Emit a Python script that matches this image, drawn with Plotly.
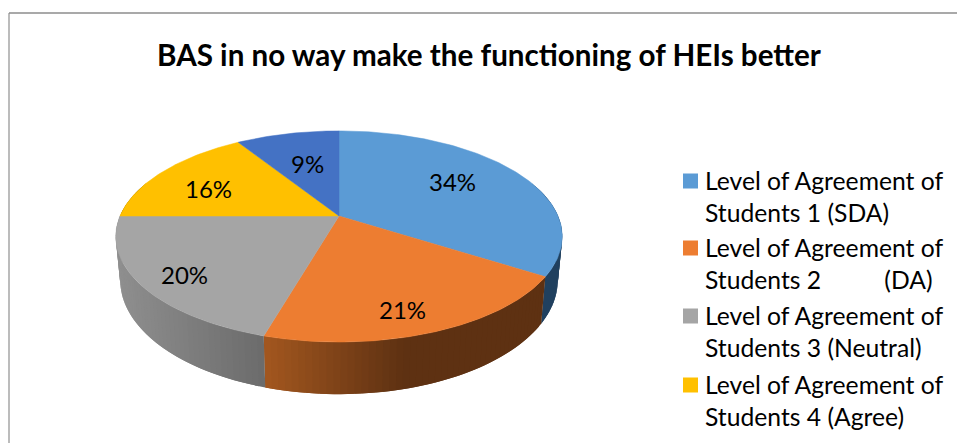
import math
import plotly.graph_objects as go

TITLE = "BAS in no way make the functioning of HEIs better"
SLICE_NAMES = [
    "Level of Agreement of<br>Students 1 (SDA)",
    "Level of Agreement of<br>Students 2          (DA)",
    "Level of Agreement of<br>Students 3 (Neutral)",
    "Level of Agreement of<br>Students 4 (Agree)",
    "Level of Agreement of<br>Students 5 (SA)",
]
VALUES = [34.0, 20.51, 20.49, 16.0, 9.0]
TOP_COLORS = ["#5B9BD5", "#ED7D31", "#A5A5A5", "#FFC000", "#4472C4"]
SIDE_LEFT = ["#20405F", "#A3571F", "#8F8F8F", "#997300", "#264478"]
SIDE_RIGHT = ["#20405F", "#5E3112", "#6B6B6B", "#997300", "#264478"]

W, H = 957, 443
CX, CY, R, HT, K, DEPTH, LOWER = 339, 216, 219, 101.6, 0.194, 42, 0.98
FONT = "Lato, 'Open Sans', sans-serif"


def rim(theta, lower=False):
    s, c = math.sin(theta), math.cos(theta)
    d = 1 + K * c
    x = R * s / d
    y = HT * c / d
    if lower:
        return CX + x * LOWER, CY - y + DEPTH / d
    return CX + x, CY - y


def hex2rgb(h):
    return [int(h[i:i + 2], 16) for i in (1, 3, 5)]


def mix(a, b, t):
    t = max(0, min(1, t))
    ca, cb = hex2rgb(a), hex2rgb(b)
    return "rgb(%d,%d,%d)" % tuple(round(p + (q - p) * t) for p, q in zip(ca, cb))


fig = go.Figure()
total = sum(VALUES)
edges = [0.0]
for v in VALUES:
    edges.append(edges[-1] + v / total * 2 * math.pi)

# side wall, painted first; each step overlaps the next so no seams show
STEP = math.radians(1.5)
for i, v in enumerate(VALUES):
    lo = max(edges[i], math.radians(70))
    hi = min(edges[i + 1], math.radians(290))
    if lo >= hi:
        continue
    n = max(1, round((hi - lo) / STEP))
    sx = sorted((rim(lo)[0], rim(hi)[0]))
    for j in range(n):
        a = lo + (hi - lo) * j / n
        b = lo + (hi - lo) * (j + 1) / n
        b2 = lo + (hi - lo) * min(n, j + 2) / n
        p = [rim(a), rim(b2), rim(b2, True), rim(a, True)]
        xs = [q[0] for q in p] + [p[0][0]]
        ys = [q[1] for q in p] + [p[0][1]]
        mx = (rim(a)[0] + rim(b)[0]) / 2
        if i == 1:
            t = (mx - sx[0]) / 140
        elif i == 2:
            t = (mx - 116) / 150
        else:
            t = 0
        col = mix(SIDE_LEFT[i], SIDE_RIGHT[i], t)
        fig.add_trace(go.Scatter(x=xs, y=ys, mode="lines", fill="toself", fillcolor=col,
                                 line=dict(width=0), hoverinfo="skip", showlegend=False))

# top face
for i, v in enumerate(VALUES):
    n = max(2, int((edges[i + 1] - edges[i]) / math.radians(1)))
    pts = [rim(edges[i] + (edges[i + 1] - edges[i]) * j / n) for j in range(n + 1)]
    xs = [CX] + [p[0] for p in pts] + [CX]
    ys = [CY] + [p[1] for p in pts] + [CY]
    fig.add_trace(go.Scatter(x=xs, y=ys, mode="lines", fill="toself", fillcolor=TOP_COLORS[i],
                             line=dict(color=TOP_COLORS[i], width=0.5), hoverinfo="skip", showlegend=False,
                             name=SLICE_NAMES[i].replace("<br>", " ")))

# data labels
LABEL_POS = [(452, 181), (402, 309), (184, 274), (208, 188), (307, 163)]
ann = []
for v, (lx, ly) in zip(VALUES, LABEL_POS):
    ann.append(dict(x=lx, y=ly, xref="x", yref="y", text=f"{v:.0f}%", showarrow=False,
                    font=dict(family=FONT, size=24, color="#000000"), xanchor="center", yanchor="middle"))

# legend
LEG_Y = [181, 248, 316, 385]
for name, col, y0 in zip(SLICE_NAMES[:4], TOP_COLORS[:4], LEG_Y):
    fig.add_shape(type="rect", x0=683, x1=698, y0=y0 - 7.5, y1=y0 + 7.5, fillcolor=col, line_width=0, layer="above")
    for k, line in enumerate(name.split("<br>")):
        ann.append(dict(x=703, y=y0 - 1 + k * 32.5, xref="x", yref="y", text=line.replace("  ", "&nbsp;&nbsp;"),
                        showarrow=False, xanchor="left", yanchor="middle",
                        font=dict(family=FONT, size=24.7, color="#000000")))

ann.append(dict(x=489, y=54, xref="x", yref="y", text=f"<b>{TITLE}</b>", showarrow=False,
                xanchor="center", yanchor="middle", font=dict(family=FONT, size=29.6, color="#000000")))

# chart frame (left and top edges visible)
fig.add_shape(type="line", x0=9, x1=9, y0=13, y1=H, line=dict(color="#A6A6A6", width=1.5))
fig.add_shape(type="line", x0=9, x1=W, y0=13, y1=13, line=dict(color="#8C8C8C", width=1.5))

fig.update_layout(
    width=W, height=H, margin=dict(l=0, r=0, t=0, b=0), autosize=False,
    paper_bgcolor="white", plot_bgcolor="white", showlegend=False, annotations=ann,
    xaxis=dict(range=[0, W], visible=False, fixedrange=True),
    yaxis=dict(range=[H, 0], visible=False, fixedrange=True),
)
fig.write_html("out.html", config={"displayModeBar": False},
               post_script="document.body.style.margin='0';document.documentElement.style.overflow='hidden';")
